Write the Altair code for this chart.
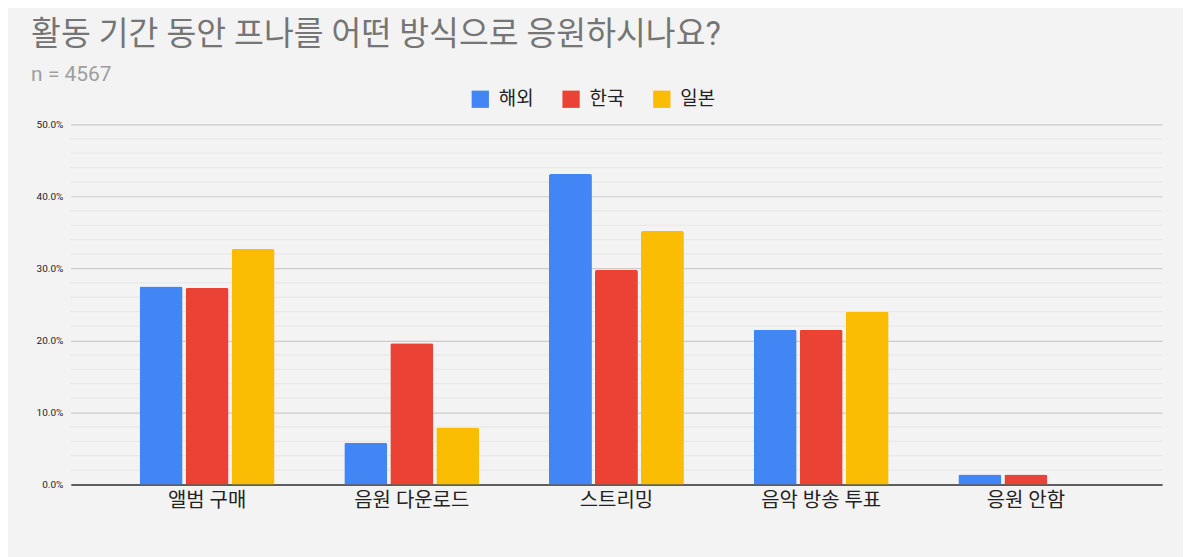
import altair as alt
import pandas as pd

categories = ["앨범 구매", "음원 다운로드", "스트리밍", "음악 방송 투표", "응원 안함"]
series = ["해외", "한국", "일본"]
overseas = [0.275, 0.058, 0.431, 0.215, 0.014]
korea = [0.273, 0.196, 0.298, 0.215, 0.014]
japan = [0.327, 0.079, 0.352, 0.240, 0.0]
colors = ["#4285f4", "#ea4335", "#fbbc04"]
major_ticks = [0.0, 0.1, 0.2, 0.3, 0.4, 0.5]
minor_ticks = [0.02, 0.04, 0.06, 0.08, 0.12, 0.14, 0.16, 0.18, 0.22, 0.24, 0.26, 0.28,
               0.32, 0.34, 0.36, 0.38, 0.42, 0.44, 0.46, 0.48]

rows = []
for name, vals in zip(series, [overseas, korea, japan]):
    for c, v in zip(categories, vals):
        rows.append({"category": c, "series": name, "value": v})
df = pd.DataFrame(rows)
minor_df = pd.DataFrame({"v": minor_ticks})

FONT = "Roboto, Noto Sans CJK KR, sans-serif"

yscale = alt.Scale(domain=[0, 0.5], nice=False)

minor = alt.Chart(minor_df).mark_rule(color="#e6e6e6", strokeWidth=1).encode(
    y=alt.Y("v:Q", scale=yscale)
)

bars = alt.Chart(df).mark_bar(cornerRadiusTopLeft=2, cornerRadiusTopRight=2).encode(
    x=alt.X("category:N", sort=categories, title=None,
            scale=alt.Scale(paddingInner=0.341, paddingOuter=0.336),
            axis=alt.Axis(labelAngle=0, labelFontSize=20, labelColor="#222222",
                          labelFont=FONT, ticks=False, domainColor="#333333",
                          domainWidth=1.5, labelPadding=6)),
    xOffset=alt.XOffset("series:N", sort=series,
                        scale=alt.Scale(paddingInner=0.067, paddingOuter=0)),
    y=alt.Y("value:Q", scale=yscale, title=None,
            axis=alt.Axis(values=major_ticks, format=".1%", labelFontSize=10,
                          labelColor="#222222", labelFont=FONT, ticks=False,
                          domain=False, gridColor="#cccccc", gridWidth=1.2,
                          labelPadding=8)),
    color=alt.Color("series:N", sort=series,
                    scale=alt.Scale(domain=series, range=colors),
                    legend=alt.Legend(title=None, orient="none", direction="horizontal",
                                      legendX=401, legendY=-35,
                                      symbolType="square", symbolSize=300,
                                      symbolStrokeWidth=0, labelFontSize=19,
                                      labelColor="#222222", labelFont=FONT,
                                      labelOffset=9, columnPadding=28)),
)

chart = alt.layer(minor, bars).properties(
    width=1094,
    height=361,
    background="#f3f3f3",
    padding={"left": 23, "top": 10, "right": 20, "bottom": 66},
    title=alt.TitleParams(
        text="활동 기간 동안 프나를 어떤 방식으로 응원하시나요?",
        subtitle="n = 4567",
        anchor="start",
        frame="bounds",
        font=FONT,
        fontSize=32.5,
        fontWeight="normal",
        color="#757575",
        subtitleFont=FONT,
        subtitleFontSize=21,
        subtitleColor="#9e9e9e",
        subtitlePadding=12,
        offset=5,
        dx=-5,
    ),
).configure_view(stroke=None)

chart.save("out.html", embed_options={"renderer": "svg", "actions": False})
